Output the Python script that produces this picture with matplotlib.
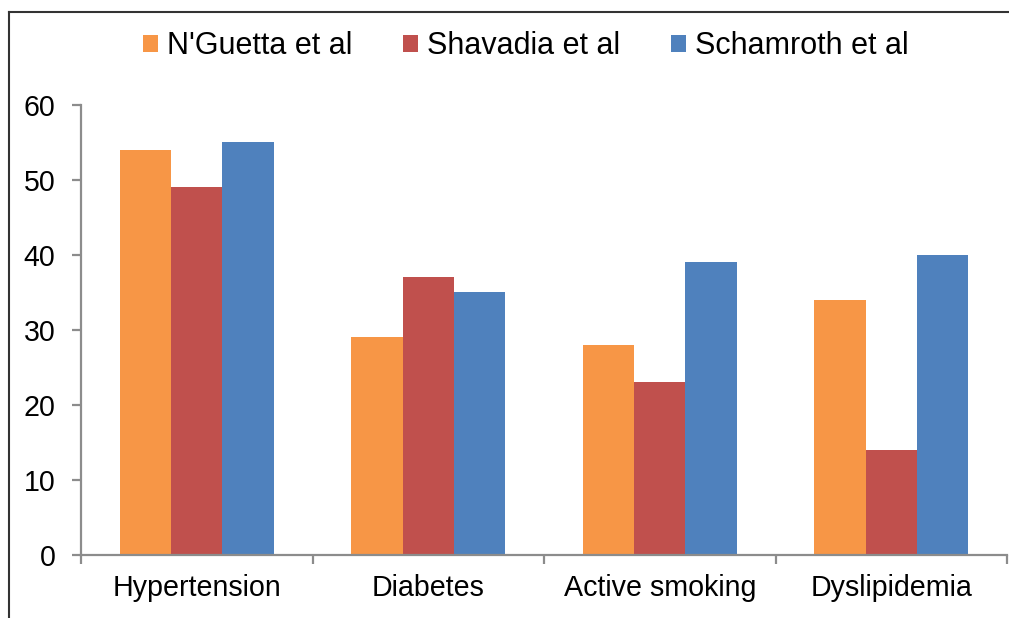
import matplotlib
matplotlib.use("Agg")
import matplotlib.pyplot as plt
import numpy as np
from matplotlib.patches import Patch
from matplotlib.lines import Line2D

categories = ["Hypertension", "Diabetes", "Active smoking", "Dyslipidemia"]
series_names = ["N'Guetta et al", "Shavadia et al", "Schamroth et al"]
nguetta = [54, 29, 28, 34]
shavadia = [49, 37, 23, 14]
schamroth = [55, 35, 39, 40]
y_ticks = [0, 10, 20, 30, 40, 50, 60]

colors = ["#F79646", "#C0504D", "#4F81BD"]
axis_color = "#8C8C8C"

plt.rcParams["font.family"] = ["Liberation Sans", "DejaVu Sans"]
FS = 20.6
LEG_FS = 22

W, H = 1009, 618
fig = plt.figure(figsize=(W / 100, H / 100), dpi=100)
ax = fig.add_axes([81 / W, (H - 555) / H, (1007 - 81) / W, (555 - 104.5) / H])

x = np.arange(len(categories))
width = 1 / 4.5
for i, (vals, name) in enumerate(zip([nguetta, shavadia, schamroth], series_names)):
    ax.bar(x + (i - 1) * width, vals, width=width, color=colors[i], label=name, zorder=2)

ax.set_xlim(-0.5, len(categories) - 0.5)
ax.set_ylim(0, 60)
ax.set_yticks(y_ticks)
ax.set_yticklabels([str(v) for v in y_ticks], fontsize=FS)
ax.set_xticks(x)
ax.set_xticklabels(categories, fontsize=FS)
ax.set_xticks(np.arange(-0.5, len(categories)), minor=True)

for side in ["top", "right"]:
    ax.spines[side].set_visible(False)
for side in ["left", "bottom"]:
    ax.spines[side].set_color(axis_color)
    ax.spines[side].set_linewidth(1.6)

ax.tick_params(axis="y", which="major", length=6.5, width=1.6, color=axis_color, pad=12, labelcolor="black")
ax.tick_params(axis="x", which="major", length=0, pad=14, labelcolor="black")
ax.tick_params(axis="x", which="minor", length=6.5, width=1.6, color=axis_color)

handles = [Patch(facecolor=c, edgecolor="none") for c in colors]
fig.legend(handles, series_names, loc="center", bbox_to_anchor=(526 / W, (H - 46) / H),
           ncol=3, frameon=False, fontsize=LEG_FS, handlelength=0.49, handleheight=0.49,
           handletextpad=0.29, columnspacing=1.67, borderpad=0, borderaxespad=0)

# outer frame (left and top edges)
fig.add_artist(Line2D([9 / W, 9 / W], [0, (H - 12) / H], transform=fig.transFigure,
                      color="#333333", linewidth=1.5))
fig.add_artist(Line2D([9 / W, 1], [(H - 12) / H, (H - 12) / H], transform=fig.transFigure,
                      color="#333333", linewidth=1.5))

fig.savefig("out.png", dpi=100)
